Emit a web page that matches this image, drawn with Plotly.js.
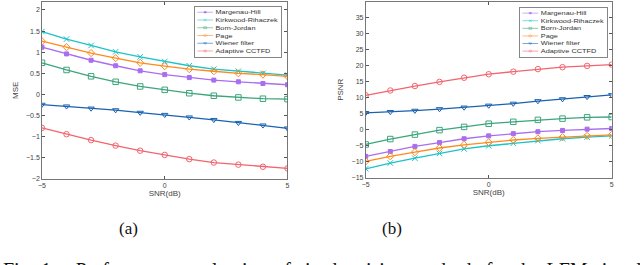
<!DOCTYPE html>
<html>
<head>
<meta charset="utf-8">
<script src="https://cdn.plot.ly/plotly-3.0.1.min.js"></script>
<style>
html,body{margin:0;padding:0;background:#fff;overflow:hidden;}
#chart{width:640px;height:265px;}
</style>
</head>
<body>
<div id="chart"></div>
<script>
// ---- data ----
const snr = [-5,-4,-3,-2,-1,0,1,2,3,4,5];
const methods = ["Margenau-Hill","Kirkwood-Rihaczek","Born-Jordan","Page","Wiener filter","Adaptive CCTFD"];
const colors = ["#a96ef0","#1cc3c9","#3ca57c","#ff8a1c","#1a62b0","#f2656e"];
const symbols = ["square","x-thin-open","square-open","diamond-open","triangle-down-open","circle-open"];

const mseMH  = [1.12,0.96,0.81,0.68,0.56,0.47,0.40,0.34,0.30,0.26,0.23];
const mseKR  = [1.49,1.31,1.16,1.01,0.89,0.78,0.68,0.60,0.55,0.50,0.46];
const mseBJ  = [0.75,0.58,0.43,0.30,0.19,0.11,0.03,-0.03,-0.07,-0.10,-0.11];
const msePG  = [1.26,1.12,0.98,0.86,0.75,0.67,0.60,0.55,0.50,0.47,0.43];
const mseWF  = [-0.24,-0.28,-0.33,-0.37,-0.43,-0.48,-0.54,-0.60,-0.67,-0.73,-0.80];
const mseAD  = [-0.79,-0.94,-1.08,-1.21,-1.33,-1.43,-1.53,-1.61,-1.66,-1.71,-1.75];

const psnrMH = [-8.3,-6.8,-5.2,-4.0,-2.8,-1.9,-1.2,-0.6,-0.2,0.2,0.4];
const psnrKR = [-12.2,-10.4,-8.9,-7.4,-6.0,-5.0,-4.2,-3.4,-2.8,-2.3,-1.9];
const psnrBJ = [-4.6,-2.9,-1.5,-0.1,0.9,1.9,2.5,3.1,3.5,3.9,4.0];
const psnrPG = [-9.9,-8.3,-7.0,-5.7,-4.7,-3.9,-3.2,-2.7,-2.3,-1.9,-1.6];
const psnrWF = [5.3,5.6,6.0,6.5,7.0,7.6,8.2,9.0,9.6,10.3,10.9];
const psnrAD = [10.8,12.3,13.7,15.0,16.3,17.4,18.2,19.0,19.6,20.0,20.4];

const mseSeries  = [mseMH, mseKR, mseBJ, msePG, mseWF, mseAD];
const psnrSeries = [psnrMH, psnrKR, psnrBJ, psnrPG, psnrWF, psnrAD];

const xTicks = [-5,0,5];
const xTitle = "SNR(dB)";
const yTitle1 = "MSE";
const yTitle2 = "PSNR";
const panelLabels = ["(a)","(b)"];
const caption = "Fig. 1.   Performance evaluation of six denoising methods for the LFM signal";

// ---- traces ----
const traces = [];
function addSeries(series, xa, ya, leg){
  series.forEach((ys,i)=>{
    traces.push({
      x: snr, y: ys, xaxis: xa, yaxis: ya, legend: leg,
      name: methods[i], type: 'scatter', mode: 'lines+markers',
      line: {color: colors[i], width: 1.3},
      marker: {symbol: symbols[i], size: (i===0?4:5.5), color: colors[i], line:{color: colors[i], width: 1}}
    });
  });
}
addSeries(mseSeries, 'x', 'y', 'legend');
addSeries(psnrSeries, 'x2', 'y2', 'legend2');

const axFont = {family: 'Liberation Sans, Arial, sans-serif', size: 7, color: '#444'};
function xAxis(domain, anchor){
  return {domain: domain, anchor: anchor, range: [-5,5], tickvals: xTicks, ticks: 'inside', ticklen: 3,
    tickcolor: '#555', showline: true, linecolor: '#555', linewidth: 0.8, mirror: 'ticks',
    showgrid: false, zeroline: false, tickfont: axFont, automargin: false,
    title: {text: xTitle, font: {family: axFont.family, size: 8, color: '#444'}, standoff: 2}};
}
function yAxis(domain, anchor, range, dtick, title){
  return {domain: domain, anchor: anchor, range: range, dtick: dtick, tick0: 0, ticks: 'inside', ticklen: 3,
    tickcolor: '#555', showline: true, linecolor: '#555', linewidth: 0.8, mirror: 'ticks',
    showgrid: false, zeroline: false, tickfont: axFont, automargin: false,
    title: {text: title, font: {family: axFont.family, size: 8, color: '#444'}, standoff: 6}};
}
const legFont = {family: 'Liberation Sans, Arial, sans-serif', size: 14, color: '#333'};
const layout = {
  width: 640, height: 265,
  margin: {l:0, r:0, t:0, b:0, autoexpand: false},
  paper_bgcolor: '#fff', plot_bgcolor: '#fff',
  showlegend: true,
  xaxis: xAxis([0.0656, 0.4492], 'y'),
  yaxis: yAxis([0.3245, 0.9943], 'x', [-2, 2.2], 0.5, yTitle1),
  xaxis2: xAxis([0.5714, 0.9558], 'y2'),
  yaxis2: yAxis([0.3294, 0.9936], 'x2', [-15, 40.1], 5, yTitle2),
  legend: {x: 0.0, y: 1, xanchor: 'left', yanchor: 'top', bgcolor: '#fff', bordercolor: '#444', borderwidth: 1.5, font: legFont, tracegroupgap: 0},
  legend2: {x: 0.0, y: 1, xanchor: 'left', yanchor: 'top', bgcolor: '#fff', bordercolor: '#444', borderwidth: 1.5, font: legFont, tracegroupgap: 0},
  annotations: [
    {text: panelLabels[0], xref: 'paper', yref: 'paper', x: 128/640, y: (265-228)/265, xanchor: 'center', yanchor: 'middle', showarrow: false,
     font: {family: 'Liberation Serif, Times New Roman, serif', size: 17, color: '#111'}},
    {text: panelLabels[1], xref: 'paper', yref: 'paper', x: 392/640, y: (265-228)/265, xanchor: 'center', yanchor: 'middle', showarrow: false,
     font: {family: 'Liberation Serif, Times New Roman, serif', size: 17, color: '#111'}},
    {text: caption, xref: 'paper', yref: 'paper', x: 0, y: (265-257)/265, xanchor: 'left', yanchor: 'top', showarrow: false,
     font: {family: 'Liberation Serif, Times New Roman, serif', size: 20, color: '#111'}}
  ]
};

Plotly.newPlot('chart', traces, layout, {displayModeBar: false, staticPlot: true}).then(()=>{
  // shrink legend boxes to match the compact reference legend
  const targets = [{x:194, y:6, w:87, h:51}, {x:519, y:7, w:88, h:50}];
  const legs = Array.from(document.querySelectorAll('g.infolayer > g')).filter(g=>/^legend\d*$/.test(g.getAttribute('class')||''));
  legs.forEach((g)=>{
    const cls = g.getAttribute('class');
    const idx = (cls === 'legend') ? 0 : 1;
    const bg = g.querySelector('rect.bg');
    const h = parseFloat(bg.getAttribute('height'));
    const w = parseFloat(bg.getAttribute('width'));
    const sy = targets[idx].h / h;
    const sx = targets[idx].w / w;
    g.setAttribute('transform', 'translate(' + targets[idx].x + ',' + targets[idx].y + ') scale(' + sx + ',' + sy + ')');
  });
  // justified-looking caption spacing, keeping its left edge in place
  document.querySelectorAll('g.annotation-text-g text').forEach(t=>{
    if (t.textContent.indexOf('Fig.') === 0) {
      const x0 = t.getBBox().x;
      t.style.wordSpacing = '1.5px';
      const x1 = t.getBBox().x;
      t.setAttribute('transform', 'translate(' + (x0 - x1 + 1) + ',0)');
    }
  });
});
</script>
</body>
</html>
